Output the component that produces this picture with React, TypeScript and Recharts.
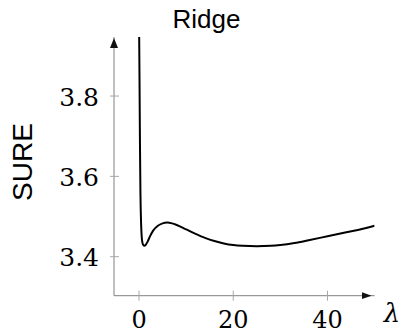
import { LineChart, Line, XAxis, YAxis } from "recharts";

// lambda grid and SURE values
const lambdas = [0, 0.1, 0.2, 0.3, 0.45, 0.65, 0.85, 1.1, 1.4, 1.8, 2.3, 3, 4, 5, 6, 7, 8, 10, 12, 14, 16, 18, 20, 22, 25, 28, 30, 33, 36, 40, 44, 48, 50];
const sure = [4.0, 3.85, 3.68, 3.56, 3.48, 3.44, 3.43, 3.427, 3.429, 3.437, 3.45, 3.465, 3.477, 3.483, 3.485, 3.483, 3.479, 3.468, 3.457, 3.447, 3.439, 3.433, 3.429, 3.427, 3.426, 3.427, 3.429, 3.434, 3.441, 3.451, 3.461, 3.471, 3.477];
const xTicks = [0, 20, 40];
const yTicks = [3.4, 3.6, 3.8];

const data = lambdas.map((l, i) => ({ lambda: l, sure: sure[i] }));

const serif = "DejaVu Serif";
const sans = "Liberation Sans";
const axisGray = "#808080";
const tickGray = "#a8a8a8";

const XTick = ({ x, y, payload }: any) => (
  <g>
    <line x1={x} x2={x} y1={y - 5} y2={y + 5} stroke={tickGray} strokeWidth={1} />
    <text x={x} y={y + 32} textAnchor="middle" fontFamily={serif} fontSize={24} fill="#000">
      {payload.value}
    </text>
  </g>
);

const YTick = ({ x, y, payload }: any) => (
  <g>
    <line x1={x - 4} x2={x + 5} y1={y} y2={y} stroke={tickGray} strokeWidth={1} />
    <text x={x - 15} y={y + 9.5} textAnchor="end" fontFamily={serif} fontSize={25} fill="#000">
      {Number(payload.value).toFixed(1)}
    </text>
  </g>
);

export default function App() {
  return (
    <div style={{ position: "absolute", left: 0, top: 0, width: 401, height: 333, background: "#fff" }}>
      <LineChart width={401} height={333} data={data} margin={{ top: 37, right: 26.4, left: 0, bottom: 0 }}>
        <defs>
          <marker id="arrowX" markerUnits="userSpaceOnUse" markerWidth={12} markerHeight={8} refX={13} refY={4} orient="auto">
            <path d="M0,0.5 L10,4 L0,7.5 z" fill="#111" />
          </marker>
          <marker id="arrowY" markerUnits="userSpaceOnUse" markerWidth={12} markerHeight={9} refX={11} refY={4.5} orient="auto-start-reverse">
            <path d="M0,0.5 L10,4.5 L0,8.5 z" fill="#111" />
          </marker>
        </defs>
        <XAxis
          dataKey="lambda"
          type="number"
          domain={[-5.31, 50]}
          ticks={xTicks}
          height={37.3}
          tickSize={0}
          tickMargin={0}
          tickLine={false}
          tick={<XTick />}
          axisLine={{ stroke: axisGray, strokeWidth: 1, markerEnd: "url(#arrowX)" }}
          allowDataOverflow
          label={{
            content: () => (
              <text x={392} y={322} textAnchor="middle" fontFamily={serif} fontStyle="italic" fontSize={26} fill="#000">
                λ
              </text>
            ),
          }}
        />
        <YAxis
          type="number"
          domain={[3.3029, 3.947]}
          ticks={yTicks}
          width={114}
          tickSize={0}
          tickMargin={0}
          tickLine={false}
          tick={<YTick />}
          axisLine={{ stroke: axisGray, strokeWidth: 1, markerStart: "url(#arrowY)" }}
          allowDataOverflow
          label={{
            content: () => (
              <text
                x={32}
                y={162}
                textAnchor="middle"
                fontFamily={sans}
                fontSize={28}
                fill="#000"
                transform="rotate(-90 32 162)"
              >
                SURE
              </text>
            ),
          }}
        />
        <text x={206.5} y={28} textAnchor="middle" fontFamily={sans} fontSize={26} fill="#000">
          Ridge
        </text>
        <Line
          type="monotone"
          dataKey="sure"
          stroke="#000"
          strokeWidth={2}
          dot={false}
          isAnimationActive={false}
        />
      </LineChart>
    </div>
  );
}
